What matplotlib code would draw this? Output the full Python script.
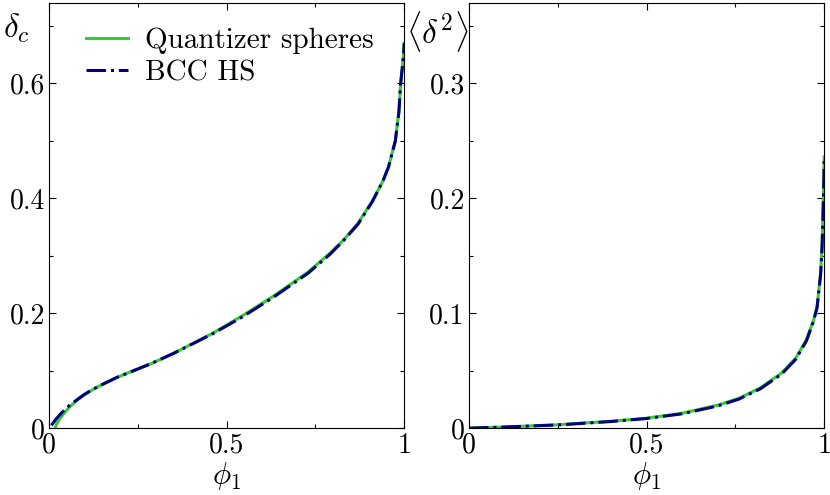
import numpy as np
import matplotlib
matplotlib.use('Agg')
import matplotlib.pyplot as plt
from matplotlib.ticker import FixedLocator, FixedFormatter

plt.rcParams['font.family'] = 'cmr10'
plt.rcParams['mathtext.fontset'] = 'cm'
plt.rcParams['axes.formatter.use_mathtext'] = True

# left panel: delta_c vs phi_1
phi_q = [0.017, 0.022, 0.03, 0.045, 0.06, 0.08, 0.1, 0.125, 0.15, 0.19, 0.23, 0.29, 0.35, 0.46,
         0.54, 0.63, 0.73, 0.79, 0.83, 0.87, 0.91, 0.94, 0.956, 0.975, 0.985, 0.99, 0.995,
         0.998, 1.0]
dc_q = [0.0, 0.008, 0.016, 0.028, 0.038, 0.049, 0.058, 0.068, 0.076, 0.088, 0.098, 0.113, 0.13,
        0.165, 0.194, 0.229, 0.272, 0.304, 0.328, 0.357, 0.395, 0.43, 0.455, 0.5, 0.55, 0.6,
        0.63, 0.65, 0.67]
phi_b = [0.007, 0.02, 0.036, 0.06, 0.08, 0.1, 0.125, 0.15, 0.19, 0.23, 0.29, 0.35, 0.46, 0.54,
         0.63, 0.73, 0.79, 0.83, 0.87, 0.91, 0.94, 0.956, 0.975, 0.985, 0.99, 0.995, 0.998, 1.0]
dc_b = [0.005, 0.016, 0.027, 0.041, 0.05, 0.059, 0.068, 0.076, 0.088, 0.098, 0.113, 0.13, 0.164,
        0.192, 0.227, 0.27, 0.302, 0.327, 0.355, 0.394, 0.43, 0.455, 0.5, 0.55, 0.6, 0.63,
        0.65, 0.67]

# right panel: <delta^2> vs phi_1
phi_r = [0.0, 0.1, 0.25, 0.4, 0.5, 0.6, 0.7, 0.76, 0.82, 0.88, 0.92, 0.95, 0.97, 0.98,
         0.99, 0.994, 0.997, 0.999, 1.0]
d2_q = [0.0, 0.001, 0.003, 0.006, 0.0087, 0.013, 0.02, 0.026, 0.035, 0.048, 0.061, 0.077,
        0.094, 0.106, 0.135, 0.158, 0.19, 0.215, 0.236]
d2_b = [0.0, 0.001, 0.0028, 0.0058, 0.0084, 0.0125, 0.0193, 0.0253, 0.0342, 0.047, 0.06, 0.076,
        0.093, 0.105, 0.134, 0.157, 0.19, 0.215, 0.236]

green = '#33cc33'
navy = '#000080'

fig = plt.figure(figsize=(8.3, 4.95), dpi=100)
ax1 = fig.add_axes([0.059, 0.135, 0.428, 0.859])
ax2 = fig.add_axes([0.565, 0.135, 0.428, 0.859])

ax1.plot(phi_q, dc_q, color=green, lw=2.2, label='Quantizer spheres')
ax1.plot(phi_b, dc_b, color=navy, lw=2.2, ls='-.', label='BCC HS')
ax2.plot(phi_r, d2_q, color=green, lw=2.2)
ax2.plot(phi_r, d2_b, color=navy, lw=2.2, ls='-.')

for ax in (ax1, ax2):
    ax.set_xlim(0, 1)
    ax.xaxis.set_major_locator(FixedLocator([0, 0.5, 1]))
    ax.xaxis.set_major_formatter(FixedFormatter(['0', '0.5', '1']))
    ax.xaxis.set_minor_locator(FixedLocator([0.25, 0.75]))
    ax.tick_params(which='both', direction='in', top=True, right=True, labelsize=20)
    ax.tick_params(which='major', length=5, width=0.8, pad=3)
    ax.tick_params(which='minor', length=3, width=0.8)
    ax.set_xlabel(r'$\phi_1$', fontsize=22, labelpad=1)

ax1.set_ylim(0, 0.74)
ax1.yaxis.set_major_locator(FixedLocator([0, 0.2, 0.4, 0.6]))
ax1.yaxis.set_major_formatter(FixedFormatter(['0', '0.2', '0.4', '0.6']))
ax1.yaxis.set_minor_locator(FixedLocator([0.1, 0.3, 0.5, 0.7]))
ax1.set_ylabel(r'$\delta_c$', fontsize=24, rotation=0, va='center', ha='center')
ax1.yaxis.set_label_coords(-0.093, 0.94)

ax2.set_ylim(0, 0.37)
ax2.yaxis.set_major_locator(FixedLocator([0, 0.1, 0.2, 0.3]))
ax2.yaxis.set_major_formatter(FixedFormatter(['0', '0.1', '0.2', '0.3']))
ax2.yaxis.set_minor_locator(FixedLocator([0.05, 0.15, 0.25, 0.35]))
ax2.set_ylabel(r'$\langle\delta^2\rangle$', fontsize=24, rotation=0, va='center', ha='center')
ax2.yaxis.set_label_coords(-0.088, 0.932)

ax1.legend(loc='upper left', frameon=False, fontsize=21, handlelength=1.45,
           handletextpad=0.6, borderaxespad=0.0, labelspacing=0.2,
           bbox_to_anchor=(0.07, 0.97))

fig.savefig('out.png', dpi=100)
